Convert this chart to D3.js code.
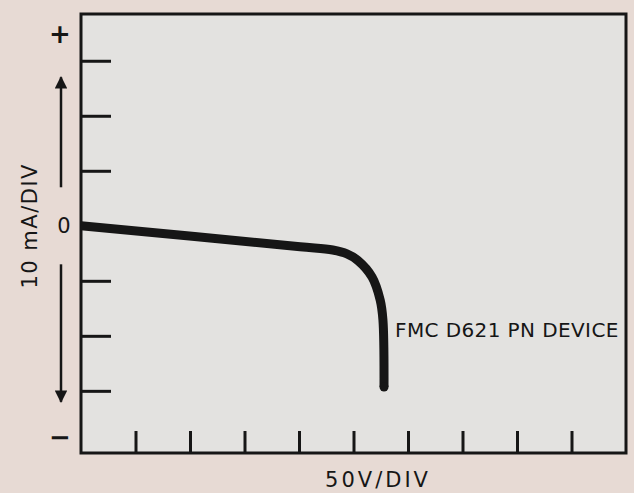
<!DOCTYPE html>
<html>
  <head>
    <title>FMC D621 PN device curve</title>
    <script src="https://d3js.org/d3.v7.min.js"></script>
    <style>
      body { margin: 0; background: #e7dad4; }
      svg text { font-family: "DejaVu Sans", sans-serif; fill: #161616; }
    </style>
  </head>
  <body>
    <svg width="634" height="493"></svg>

    <script>
      // trace, in divisions (x: 50 V/div, y: 10 mA/div)
      var curveX = [0, 4.02, 4.62, 4.88, 5.08, 5.34, 5.49, 5.54, 5.56];
      var curveY = [0, -0.38, -0.44, -0.51, -0.63, -0.93, -1.35, -1.71, -2.93];

      var xTicks = [1, 2, 3, 4, 5, 6, 7, 8, 9];
      var yTicks = [-3, -2, -1, 1, 2, 3];
      var yMarks = ["+", "0", "\u2212"];
      var yMarkPos = [3.5, 0, -3.84];

      var xTitle = "50V/DIV";
      var yTitle = "10 mA/DIV";
      var note = "FMC D621 PN DEVICE";

      var svg = d3.select("svg");

      var x = d3.scaleLinear().domain([0, 10]).range([81, 626]);
      var y = d3.scaleLinear().domain([-4.13, 3.85]).range([453, 14]);

      // graph area
      svg.append("rect")
        .attr("x", x(0)).attr("y", y(3.85))
        .attr("width", x(10) - x(0)).attr("height", y(-4.13) - y(3.85))
        .style("fill", "#e3e2e0")
        .style("stroke", "#161616")
        .style("stroke-width", "3px");

      var yAxis = d3.axisRight(y).tickValues(yTicks).tickSize(30).tickFormat("");
      svg.append("g")
        .attr("transform", "translate(" + x(0) + ",0)")
        .call(yAxis)
        .call(g => g.select(".domain").remove())
        .selectAll("line")
        .style("stroke", "#161616")
        .style("stroke-width", "3px");

      var xAxis = d3.axisTop(x).tickValues(xTicks).tickSize(22).tickFormat("");
      svg.append("g")
        .attr("transform", "translate(0," + y(-4.13) + ")")
        .call(xAxis)
        .call(g => g.select(".domain").remove())
        .selectAll("line")
        .style("stroke", "#161616")
        .style("stroke-width", "3px");

      // the trace
      var line = d3.line()
        .x(d => x(d[0]))
        .y(d => y(d[1]))
        .curve(d3.curveCatmullRom.alpha(0.5));

      var pts = d3.zip(curveX, curveY);
      svg.append("path")
        .datum(pts)
        .attr("d", line)
        .style("fill", "none")
        .style("stroke", "#161616")
        .style("stroke-width", "9px")
        .style("stroke-linejoin", "round");

      var last = pts[pts.length - 1];
      svg.append("circle")
        .attr("cx", x(last[0])).attr("cy", y(last[1]))
        .attr("r", 4.5)
        .style("fill", "#161616");

      // +, 0, - marks
      svg.selectAll(".mark")
        .data(yMarks)
        .enter()
        .append("text")
        .attr("class", "mark")
        .attr("x", (d, i) => i == 1 ? 64 : 60)
        .attr("y", (d, i) => y(yMarkPos[i]))
        .attr("dy", "0.36em")
        .attr("text-anchor", "middle")
        .style("font-size", (d, i) => i == 1 ? "21px" : "26px")
        .style("font-weight", (d, i) => i == 1 ? "normal" : "bold")
        .text(d => d);

      // arrows
      svg.append("defs").append("marker")
        .attr("id", "head")
        .attr("viewBox", "0 0 10 10")
        .attr("refX", 9).attr("refY", 5)
        .attr("markerWidth", 7).attr("markerHeight", 5)
        .attr("markerUnits", "strokeWidth")
        .attr("orient", "auto")
        .append("path")
        .attr("d", "M0,0L10,5L0,10Z")
        .style("fill", "#161616");

      var arrows = [[y(0.7), y(2.7)], [y(-0.7), y(-3.2)]];
      svg.selectAll(".arrow")
        .data(arrows)
        .enter()
        .append("line")
        .attr("class", "arrow")
        .attr("x1", 61).attr("x2", 61)
        .attr("y1", d => d[0]).attr("y2", d => d[1])
        .style("stroke", "#161616")
        .style("stroke-width", "2.5px")
        .attr("marker-end", "url(#head)");

      // titles
      svg.append("text")
        .attr("transform", "translate(37," + y(0) + ") rotate(-90)")
        .attr("text-anchor", "middle")
        .style("font-size", "21px")
        .style("letter-spacing", "1.5px")
        .text(yTitle);

      svg.append("text")
        .attr("x", 378).attr("y", 487)
        .attr("text-anchor", "middle")
        .style("font-size", "21px")
        .style("letter-spacing", "3px")
        .text(xTitle);

      svg.append("text")
        .attr("x", 395).attr("y", 337)
        .style("font-size", "20px")
        .style("letter-spacing", "0.4px")
        .text(note);
    </script>
  </body>
</html>
